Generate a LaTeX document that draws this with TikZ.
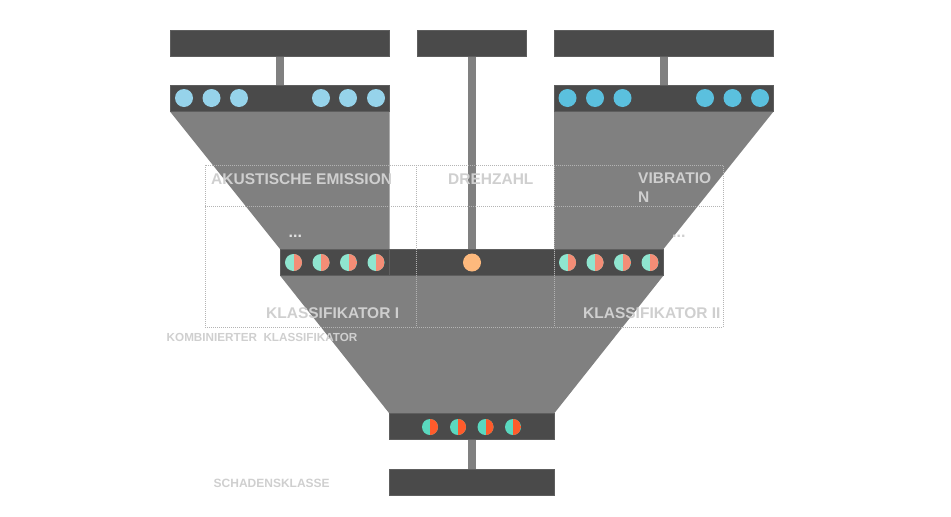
\documentclass[tikz,border=0pt]{standalone}
\usepackage{fontspec}
\setmainfont{Liberation Sans}
\definecolor{bardark}{HTML}{4A4A4A}
\definecolor{barline}{HTML}{5E5E5E}
\definecolor{funnel}{HTML}{808080}
\definecolor{blueA}{HTML}{96D3EA}
\definecolor{blueB}{HTML}{5BC0DE}
\definecolor{tealA}{HTML}{8FE5CF}
\definecolor{salmonA}{HTML}{F48D76}
\definecolor{tealB}{HTML}{5AD8BF}
\definecolor{redB}{HTML}{FF5B2B}
\definecolor{orangeC}{HTML}{FDB97D}
\definecolor{labelgray}{HTML}{CFCFCF}
\definecolor{gridgray}{HTML}{B4B4B4}
\begin{document}
\begin{tikzpicture}[x=1pt,y=-1pt,
  bar/.style={draw=barline,line width=0.5pt,fill=bardark,inner sep=0pt,minimum height=26pt,anchor=north west},
  stem/.style={draw=funnel,line width=8pt},
  funnelfill/.style={fill=funnel},
  bdot/.style={circle,inner sep=0pt,minimum size=18pt,fill=#1},
  hdot/.style n args={3}{circle,inner sep=0pt,minimum size=#1,fill=#2,
     path picture={\fill[#3] (path picture bounding box.north) rectangle (path picture bounding box.south east);}},
  gridline/.style={draw=gridgray,line width=0.6pt,dash pattern=on 1pt off 1pt},
  lbl/.style={text=labelgray,font=\bfseries\fontsize{15.5}{19}\selectfont,inner sep=0pt,anchor=base west},
  lblsmall/.style={text=labelgray,font=\bfseries\fontsize{11.7}{14}\selectfont,inner sep=0pt,anchor=base west},
  dots/.style={text=#1,font=\bfseries\fontsize{16}{19}\selectfont,inner sep=0pt,anchor=base west}
]
\useasboundingbox (0,0) rectangle (951,517);

% bars (nodes)
\node[bar,minimum width=219pt] (topL) at (170,30) {};
\node[bar,minimum width=109pt] (topC) at (417,30) {};
\node[bar,minimum width=219pt] (topR) at (554,30) {};
\node[bar,minimum width=219pt] (inL) at (170,85) {};
\node[bar,minimum width=219pt] (inR) at (554,85) {};
\node[bar,minimum width=109pt] (midL) at (280,249) {};
\node[bar,minimum width=165pt] (midC) at (389,249) {};
\node[bar,minimum width=109pt] (midR) at (554,249) {};
\node[bar,minimum width=165pt] (bot) at (389,413) {};
\node[bar,minimum width=165pt] (out) at (389,469) {};

% funnels
\fill[funnelfill] (inL.south west) -- (inL.south east) -- (midL.north east) -- (midL.north west) -- cycle;
\fill[funnelfill] (inR.south west) -- (inR.south east) -- (midR.north east) -- (midR.north west) -- cycle;
\fill[funnelfill] (midL.south west) -- (midR.south east) -- (bot.north east) -- (bot.north west) -- cycle;

% stems
\draw[stem] (topL.south) -- (inL.north);
\draw[stem] (topR.south) -- (inR.north);
\draw[stem] (topC.south) -- (midC.north);
\draw[stem] (bot.south) -- (out.north);

% redraw bars on top of funnel edges
\foreach \b in {inL,inR,midL,midC,midR,bot}{
  \draw[barline,line width=0.5pt,fill=bardark] (\b.north west) rectangle (\b.south east);
}

% input dots
\node[bdot=blueA] (a1) at (184,98) {};
\node[bdot=blueA] (a2) at (211.5,98) {};
\node[bdot=blueA] (a3) at (239,98) {};
\node[bdot=blueA] (a4) at (321,98) {};
\node[bdot=blueA] (a5) at (348,98) {};
\node[bdot=blueA] (a6) at (376,98) {};
\node[bdot=blueB] (v1) at (567.5,98) {};
\node[bdot=blueB] (v2) at (595,98) {};
\node[bdot=blueB] (v3) at (622.5,98) {};
\node[bdot=blueB] (v4) at (705,98) {};
\node[bdot=blueB] (v5) at (732.5,98) {};
\node[bdot=blueB] (v6) at (760,98) {};

% classifier dots
\node[hdot={17pt}{tealA}{salmonA}] (k1) at (293.5,262.5) {};
\node[hdot={17pt}{tealA}{salmonA}] (k2) at (321,262.5) {};
\node[hdot={17pt}{tealA}{salmonA}] (k3) at (348.5,262.5) {};
\node[hdot={17pt}{tealA}{salmonA}] (k4) at (376,262.5) {};
\node[bdot=orangeC] (d1) at (472,262.5) {};
\node[hdot={17pt}{tealA}{salmonA}] (m1) at (567.5,262.5) {};
\node[hdot={17pt}{tealA}{salmonA}] (m2) at (595,262.5) {};
\node[hdot={17pt}{tealA}{salmonA}] (m3) at (622.5,262.5) {};
\node[hdot={17pt}{tealA}{salmonA}] (m4) at (650,262.5) {};

% combined dots
\node[hdot={16pt}{tealB}{redB}] (c1) at (430,427) {};
\node[hdot={16pt}{tealB}{redB}] (c2) at (458,427) {};
\node[hdot={16pt}{tealB}{redB}] (c3) at (485.5,427) {};
\node[hdot={16pt}{tealB}{redB}] (c4) at (513,427) {};

% dotted table grid
\draw[gridline] (205,165) rectangle (723,327);
\draw[gridline] (205,206) -- (723,206);
\draw[gridline] (416.5,165) -- (416.5,327);
\draw[gridline] (554,165) -- (554,327);

% labels
\node[lbl] (t1) at (211,184) {AKUSTISCHE EMISSION};
\node[lbl] (t2) at (448,184) {DREHZAHL};
\node[lbl,align=left,anchor=north west] (t3) at (638,172.5) {VIBRATIO\\N};
\node[dots=labelgray!60!white] (e1) at (288.5,237.5) {...};
\node[dots=labelgray] (e2) at (672,237.5) {...};
\node[lbl] (t4) at (266,318) {KLASSIFIKATOR I};
\node[lbl] (t5) at (583,318) {KLASSIFIKATOR II};
\node[lblsmall] (t6) at (166.5,341) {KOMBINIERTER~~KLASSIFIKATOR};
\node[lbl,font=\bfseries\fontsize{12}{14}\selectfont] (t7) at (213.5,487) {SCHADENSKLASSE};
\end{tikzpicture}
\end{document}
